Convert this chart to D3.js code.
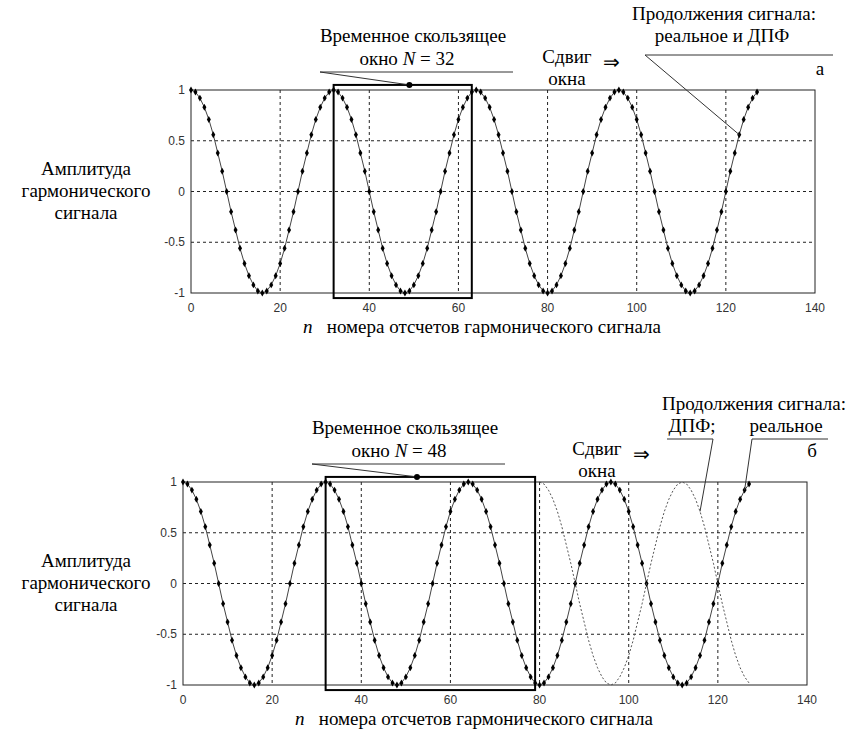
<!DOCTYPE html>
<html>
<head>
<meta charset="utf-8">
<script src="https://cdn.jsdelivr.net/npm/d3@7"></script>
</head>
<body style="margin:0">
<script>
// отсчеты n
const sampleN = d3.range(0, 128);
// гармонический сигнал, значения (период 32 отсчета)
const signal = [
  1, 0.98, 0.92, 0.83, 0.71, 0.56, 0.38, 0.2, 0, -0.2, -0.38, -0.56, -0.71, -0.83, -0.92, -0.98,
  -1, -0.98, -0.92, -0.83, -0.71, -0.56, -0.38, -0.2, 0, 0.2, 0.38, 0.56, 0.71, 0.83, 0.92, 0.98,
  1, 0.98, 0.92, 0.83, 0.71, 0.56, 0.38, 0.2, 0, -0.2, -0.38, -0.56, -0.71, -0.83, -0.92, -0.98,
  -1, -0.98, -0.92, -0.83, -0.71, -0.56, -0.38, -0.2, 0, 0.2, 0.38, 0.56, 0.71, 0.83, 0.92, 0.98,
  1, 0.98, 0.92, 0.83, 0.71, 0.56, 0.38, 0.2, 0, -0.2, -0.38, -0.56, -0.71, -0.83, -0.92, -0.98,
  -1, -0.98, -0.92, -0.83, -0.71, -0.56, -0.38, -0.2, 0, 0.2, 0.38, 0.56, 0.71, 0.83, 0.92, 0.98,
  1, 0.98, 0.92, 0.83, 0.71, 0.56, 0.38, 0.2, 0, -0.2, -0.38, -0.56, -0.71, -0.83, -0.92, -0.98,
  -1, -0.98, -0.92, -0.83, -0.71, -0.56, -0.38, -0.2, 0, 0.2, 0.38, 0.56, 0.71, 0.83, 0.92, 0.98
];
// продолжение ДПФ для окна N=48 (n = 80..127)
const dftN = d3.range(80, 128);
const dftValues = [
  1, 0.98, 0.92, 0.83, 0.71, 0.56, 0.38, 0.2, 0, -0.2, -0.38, -0.56, -0.71, -0.83, -0.92, -0.98,
  -1, -0.98, -0.92, -0.83, -0.71, -0.56, -0.38, -0.2, 0, 0.2, 0.38, 0.56, 0.71, 0.83, 0.92, 0.98,
  1, 0.98, 0.92, 0.83, 0.71, 0.56, 0.38, 0.2, 0, -0.2, -0.38, -0.56, -0.71, -0.83, -0.92, -0.98
];
const xTicks = [0, 20, 40, 60, 80, 100, 120, 140];
const yTicks = [-1, -0.5, 0, 0.5, 1];
const yTickLabels = ["-1", "-0.5", "0", "0.5", "1"];
const xGrid = [20, 40, 60, 80, 100, 120];
const yGrid = [-0.5, 0, 0.5];
const windowTop = [32, 63];     // окно N = 32
const windowBottom = [32, 79];  // окно N = 48

const W = 624, H = 203;

let svg = d3.select("body").append("svg")
  .attr("width", 848)
  .attr("height", 753);

// подпись шрифтом Times (кегль 24, уменьшенный масштабом)
function label(g, x, y, s, anchor = "middle", size = 19) {
  return g.append("text")
    .attr("transform", `translate(${x},${y}) scale(${size / 24})`)
    .attr("text-anchor", anchor)
    .attr("font-size", 24)
    .style("font-family", '"Liberation Serif"')
    .text(s);
}

function panel(left, top, win, winLabel, dotN) {
  let g = svg.append("g").attr("transform", `translate(${left},${top})`);
  let x = d3.scaleLinear().domain([0, 140]).range([0, W]);
  let y = d3.scaleLinear().domain([-1, 1]).range([H, 0]);

  // сетка
  g.selectAll(".gx").data(xGrid).join("line")
    .attr("x1", d => x(d)).attr("x2", d => x(d))
    .attr("y1", 0).attr("y2", H)
    .attr("stroke", "#222").attr("stroke-dasharray", "3,3");
  g.selectAll(".gy").data(yGrid).join("line")
    .attr("y1", d => y(d)).attr("y2", d => y(d))
    .attr("x1", 0).attr("x2", W)
    .attr("stroke", "#222").attr("stroke-dasharray", "3,3");

  g.append("rect").attr("width", W).attr("height", H)
    .attr("fill", "none").attr("stroke", "#222");

  // подписи делений
  g.selectAll(".xt").data(xTicks).join("text")
    .attr("font-size", 12).attr("fill", "#333")
    .style("font-family", '"Liberation Sans"')
    .attr("x", d => x(d)).attr("y", H + 19)
    .attr("text-anchor", "middle")
    .text(d => d);
  g.selectAll(".yt").data(yTicks).join("text")
    .attr("font-size", 12).attr("fill", "#333")
    .style("font-family", '"Liberation Sans"')
    .attr("x", -6).attr("y", d => y(d) + 4)
    .attr("text-anchor", "end")
    .text((d, i) => yTickLabels[i]);

  // подписи осей
  let xl = label(g, 112, H + 40, "", "start");
  xl.append("tspan").attr("font-style", "italic").text("n");
  xl.append("tspan").attr("dx", 18).text("номера отсчетов гармонического сигнала");

  ["Амплитуда", "гармонического", "сигнала"].forEach((s, i) => {
    label(g, 86 - left, 85 + i * 22, s);
  });

  // сигнал
  let line = d3.line().x((d, i) => x(sampleN[i])).y(d => y(d));
  g.append("path").datum(signal)
    .attr("d", line).attr("fill", "none")
    .attr("stroke", "#444").attr("stroke-width", 1);
  g.selectAll(".pt").data(signal).join("path")
    .attr("d", d3.symbol(d3.symbolDiamond, 14))
    .attr("transform", (d, i) => `translate(${x(sampleN[i])},${y(d)})`)
    .attr("fill", "#000");

  // окно
  g.append("rect")
    .attr("x", x(win[0])).attr("y", y(1.05))
    .attr("width", x(win[1]) - x(win[0]))
    .attr("height", y(-1.05) - y(1.05))
    .attr("fill", "none").attr("stroke", "#000").attr("stroke-width", 2);

  // надпись окна
  let cx = x(dotN);
  label(g, 222, -48, "Временное скользящее");
  let t2 = label(g, 216, -25, "");
  t2.append("tspan").text("окно  ");
  t2.append("tspan").attr("font-style", "italic").text("N");
  t2.append("tspan").text(" = " + winLabel);
  g.append("line").attr("x1", 129).attr("x2", 322).attr("y1", -18).attr("y2", -18)
    .attr("stroke", "#333");
  g.append("line").attr("x1", 129).attr("y1", -18).attr("x2", cx).attr("y2", y(1.05))
    .attr("stroke", "#333");
  g.append("circle").attr("cx", cx).attr("cy", y(1.05)).attr("r", 3).attr("fill", "#000");

  return { g, x, y };
}

function shiftLabel(p, cx) {
  label(p.g, cx, -27, "Сдвиг");
  label(p.g, cx, -5, "окна");
  label(p.g, cx + 44, -21, "⇒", "middle", 20);
}

// а
let pa = panel(191, 90, windowTop, 32, 49);
shiftLabel(pa, 376);
label(pa.g, 533, -70, "Продолжения сигнала:");
label(pa.g, 531, -48, "реальное и ДПФ");
pa.g.append("line").attr("x1", 454).attr("x2", 642).attr("y1", -35).attr("y2", -35).attr("stroke", "#333");
pa.g.append("line").attr("x1", 454).attr("y1", -35)
  .attr("x2", pa.x(sampleN[123])).attr("y2", pa.y(signal[123])).attr("stroke", "#333");
label(pa.g, 629, -15, "а");

// б
let pb = panel(183, 482, windowBottom, 48, 52.5);
shiftLabel(pb, 414);
let dftLine = d3.line().x((d, i) => pb.x(dftN[i])).y(d => pb.y(d));
pb.g.append("path").datum(dftValues)
  .attr("d", dftLine).attr("fill", "none")
  .attr("stroke", "#555").attr("stroke-width", 1).attr("stroke-dasharray", "2,2");
label(pb.g, 663, -72, "Продолжения сигнала:", "end");
label(pb.g, 509, -50, "ДПФ;");
label(pb.g, 603, -50, "реальное");
pb.g.append("line").attr("x1", 484).attr("x2", 530).attr("y1", -43).attr("y2", -43).attr("stroke", "#333");
pb.g.append("line").attr("x1", 530).attr("y1", -43)
  .attr("x2", pb.x(dftN[36])).attr("y2", pb.y(dftValues[36])).attr("stroke", "#333");
pb.g.append("line").attr("x1", 569).attr("x2", 645).attr("y1", -43).attr("y2", -43).attr("stroke", "#333");
pb.g.append("line").attr("x1", 569).attr("y1", -43)
  .attr("x2", pb.x(sampleN[126])).attr("y2", pb.y(signal[126])).attr("stroke", "#333");
label(pb.g, 629, -25, "б");
</script>
</body>
</html>
